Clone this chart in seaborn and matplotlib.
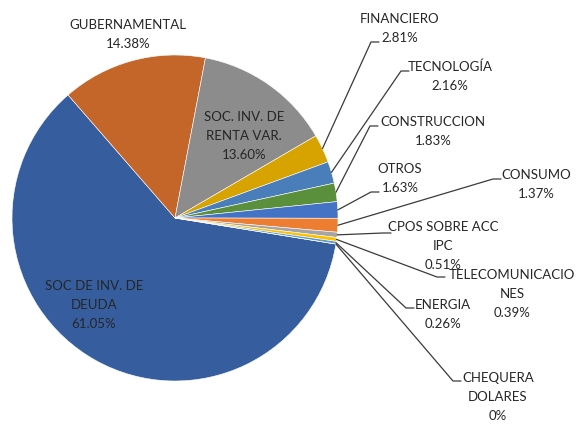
import numpy as np
import seaborn as sns
import matplotlib.pyplot as plt

# datos
sectores = ['SOC DE INV. DE\nDEUDA', 'GUBERNAMENTAL', 'SOC. INV. DE\nRENTA VAR.', 'FINANCIERO',
            'TECNOLOGÍA', 'CONSTRUCCION', 'OTROS', 'CONSUMO', 'CPOS SOBRE ACC\nIPC',
            'TELECOMUNICACIO\nNES', 'ENERGIA', 'CHEQUERA\nDOLARES']
porcentajes = [61.05, 14.38, 13.60, 2.81, 2.16, 1.83, 1.63, 1.37, 0.51, 0.39, 0.26, 0.0]
etiquetas_pct = ['61.05%', '14.38%', '13.60%', '2.81%', '2.16%', '1.83%', '1.63%',
                 '1.37%', '0.51%', '0.39%', '0.26%', '0%']
colores = ['#365E9F', '#C4652A', '#8C8C8C', '#D6A300', '#4A7EBB', '#5A8F3C',
           '#4472C4', '#ED7D31', '#A5A5A5', '#FFC000', '#5B9BD5', '#70AD47']

# layout en pixeles: centro de la primera linea, codo de la linea guia (None = sin guia)
layout = {
    0: ((94, 286), None),
    1: ((128, 25), None),
    2: ((244, 117), None),
    3: ((400, 19), (371, 42)),
    4: ((450, 67), (401, 71)),
    5: ((433, 122), (370, 126)),
    6: ((400, 169), (371, 192)),
    7: ((536, 175), (493, 179)),
    8: ((443, 227), (383, 233)),
    9: ((512, 275), (437, 277)),
    10: ((443, 305), (406, 308)),
    11: ((498, 378), (453, 381)),
}
PASO = 19  # separacion entre lineas, px

W, H = 577, 424
CX, CY, R = 175, 218, 163


def px(x, y):
    return (x - CX) / R, (CY - y) / R


sns.set_style('white')
plt.rcParams['font.family'] = ['Lato', 'DejaVu Sans']

fig = plt.figure(figsize=(W / 100, H / 100), dpi=100)
ax = fig.add_axes([0, 0, 1, 1])

wedges, _ = ax.pie(porcentajes, colors=colores, startangle=-9.2, counterclock=False,
                   radius=1, wedgeprops={'edgecolor': 'white', 'linewidth': 0.4})

ax.set_xlim(-CX / R, (W - CX) / R)
ax.set_ylim(-(H - CY) / R, CY / R)
ax.set_aspect('equal')
ax.axis('off')

for i, w in enumerate(wedges):
    (tx, ty), codo = layout[i]
    lineas = sectores[i].split('\n') + [etiquetas_pct[i]]
    for k, linea in enumerate(lineas):
        ax.text(*px(tx, ty + k * PASO), linea, ha='center', va='center',
                fontsize=9.5, color='#262626')
    if codo is not None:
        ang = np.deg2rad((w.theta1 + w.theta2) / 2)
        x0, y0 = np.cos(ang), np.sin(ang)
        xe, ye = px(*codo)
        ax.plot([x0, xe, xe + 8 / R], [y0, ye, ye], color='#3a3a3a', lw=0.9)

fig.savefig('out.png', dpi=100)
